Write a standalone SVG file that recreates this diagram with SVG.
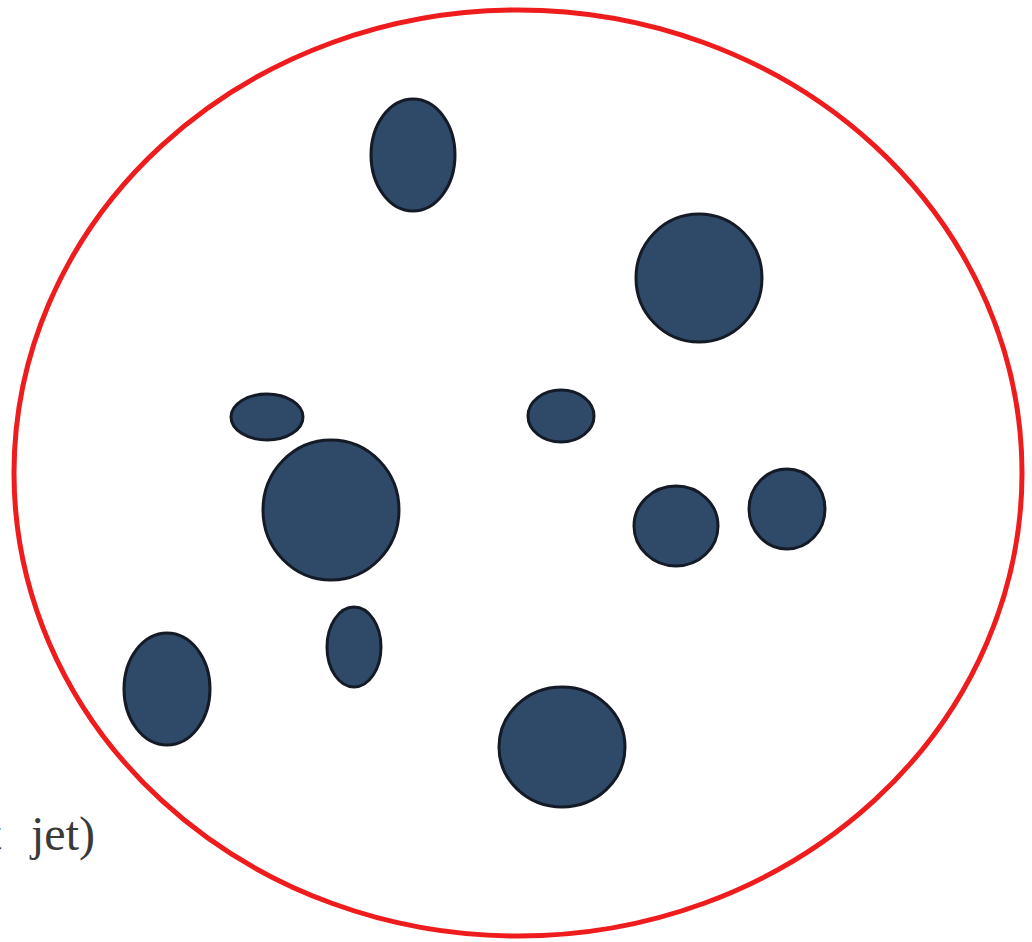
<svg xmlns="http://www.w3.org/2000/svg" width="1032" height="942" viewBox="0 0 1032 942">
<style>
.blob{fill:#2f4a68;stroke:#141a26;stroke-width:3}
.lbl{font-family:"Liberation Serif","DejaVu Serif",serif;font-size:48px;fill:#3a3a3a}
</style>
<rect width="1032" height="942" fill="#fff"/>
<ellipse id="boundary" cx="518" cy="473" rx="504" ry="463" fill="none" stroke="#ee1c1c" stroke-width="5"/>
<g id="blobs">
<ellipse class="blob" cx="413" cy="155" rx="42" ry="56"/>
<ellipse class="blob" cx="699" cy="278" rx="63" ry="64"/>
<ellipse class="blob" cx="267" cy="417" rx="36" ry="23"/>
<ellipse class="blob" cx="561" cy="416" rx="33" ry="26"/>
<ellipse class="blob" cx="331" cy="510" rx="68" ry="70"/>
<ellipse class="blob" cx="676" cy="526" rx="42" ry="40"/>
<ellipse class="blob" cx="787" cy="509" rx="38" ry="40"/>
<ellipse class="blob" cx="354" cy="647" rx="27" ry="40"/>
<ellipse class="blob" cx="167" cy="689" rx="43" ry="56"/>
<ellipse class="blob" cx="562" cy="747" rx="63" ry="60"/>
</g>
<text class="lbl" x="-12" y="850">t <tspan x="31">jet)</tspan></text>
</svg>
